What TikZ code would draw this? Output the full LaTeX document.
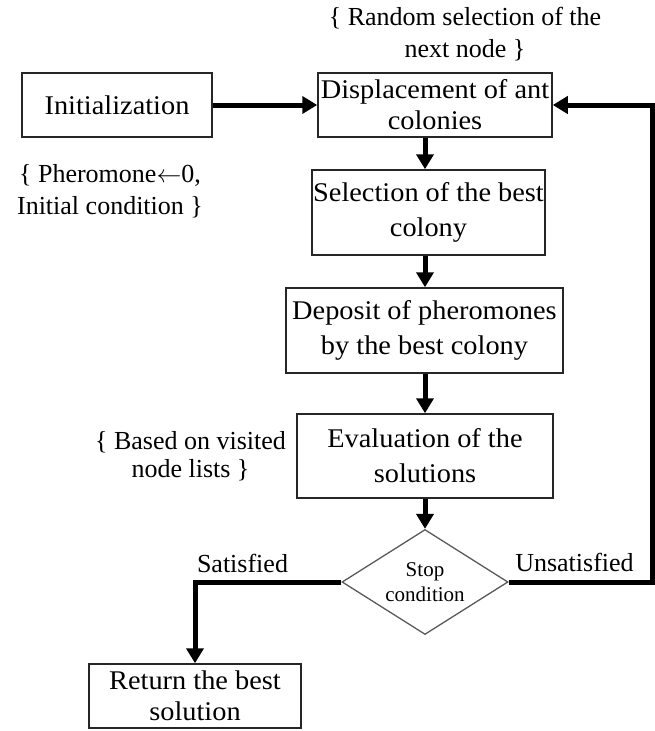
\documentclass[tikz,border=0pt]{standalone}
\usepackage{fontspec}
\setmainfont{Liberation Serif}
\newfontfamily\boxfont[FakeStretch=1.05]{Liberation Serif}
\usetikzlibrary{shapes.geometric,arrows.meta}
\begin{document}
\begin{tikzpicture}[x=1pt,y=-1pt,
  box/.style={draw=black!85,line width=1.5pt,inner sep=0pt,align=center,
    font=\boxfont\fontsize{27}{35}\selectfont},
  lbl/.style={inner sep=0pt,align=center,font=\fontsize{26}{32}\selectfont},
  flow/.style={line width=5pt,-{Triangle[length=15pt,width=17pt]}},
  plain/.style={line width=5pt}]
\path[use as bounding box] (0,0) rectangle (655,731);
\node[box,minimum width=190pt,minimum height=64pt] (init) at (117,105) {Initialization};
\node[box,minimum width=234pt,minimum height=64pt] (disp) at (435,105) {Displacement of ant\\[-4pt]colonies};
\node[box,minimum width=233pt,minimum height=85pt] (sel) at (428.5,212.5) {Selection of the best\\colony};
\node[box,minimum width=277pt,minimum height=85pt] (dep) at (424.5,330.5) {Deposit of pheromones\\by the best colony};
\node[box,minimum width=256pt,minimum height=84pt] (eval) at (425,456) {Evaluation of the\\solutions};
\node[diamond,draw=black!65,line width=1.3pt,inner sep=0pt,aspect=1.58,
  minimum width=166pt,minimum height=105pt,align=center,
  font=\fontsize{21}{25}\selectfont] (dia) at (425,582) {Stop\\condition};
\node[box,minimum width=212pt,minimum height=64pt] (ret) at (195,696) {Return the best\\[-4pt]solution};
\node[lbl] (rand) at (465,34) {\{ Random selection of the\\next node \}};
\node[lbl] (pher) at (110,191) {\{ Pheromone$\leftarrow$0,\\Initial condition \}};
\node[lbl] (based) at (190.5,456) {\{ Based on visited\\[-4pt]node lists \}};
\node[lbl] (sat) at (242.5,563) {Satisfied};
\node[lbl] (unsat) at (574.5,562) {Unsatisfied};
\coordinate (rc) at (652.5,582);
\draw[flow] (init.east) -- (disp.west);
\draw[flow] (disp.south -| dia.north) -- (sel.north -| dia.north);
\draw[flow] (sel.south -| dia.north) -- (dep.north -| dia.north);
\draw[flow] (dep.south -| dia.north) -- (eval.north -| dia.north);
\draw[flow] (eval.south -| dia.north) -- (dia.north);
\draw[flow] (dia.west) -| (ret.north);
\draw[flow] (dia.east) -- (rc) |- (disp.east);
\end{tikzpicture}
\end{document}
